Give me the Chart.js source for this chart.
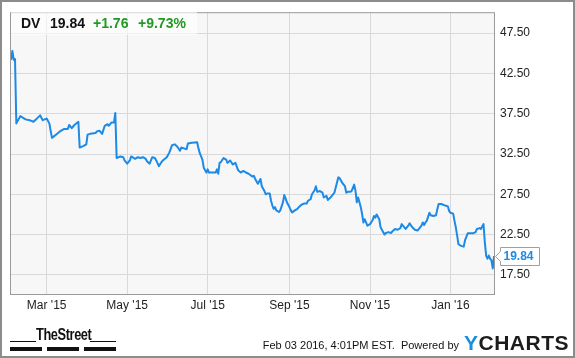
<!DOCTYPE html>
<html>
<head>
<meta charset="utf-8">
<script src="https://cdn.jsdelivr.net/npm/chart.js@4.4.0/dist/chart.umd.min.js"></script>
<style>
  html, body { margin: 0; padding: 0; background: #fff; }
  #frame { position: relative; width: 575px; height: 358px; overflow: hidden;
           font-family: "Liberation Sans", Arial, sans-serif; color: #111; }
  #myChart { position: absolute; left: 0; top: 0; }
  #outline { position: absolute; left: 0; top: 0; width: 575px; height: 358px;
             box-sizing: border-box; border: 2px solid #8c8c8c; pointer-events: none; }
  #header { position: absolute; left: 11px; top: 11px; width: 186px; height: 24px;
            background: rgba(255,255,255,0.6); }
  .hd { position: absolute; top: 16px; font-size: 14px; font-weight: bold; line-height: 14px; }
  .up { color: #229922; }
  #street { position: absolute; left: 36px; top: 326px; font-size: 16px; font-weight: bold;
            letter-spacing: -0.5px; transform: scaleX(0.8); transform-origin: left top; color: #111; }
  .rule { position: absolute; background: #111; }
  #stamp { position: absolute; right: 116px; top: 339px; font-size: 11px; color: #111;
           white-space: nowrap; text-align: right; }
  #ycharts { position: absolute; left: 464px; top: 331px; font-size: 21px; font-weight: bold;
             letter-spacing: 0.5px; color: #1c1c1c; }
  #ycharts span { color: #1a8fdc; }
</style>
</head>
<body>
<div id="frame">
  <canvas id="myChart" width="575" height="358"></canvas>
  <div id="header"></div>
  <div class="hd" style="left:21px">DV</div>
  <div class="hd" style="left:50px">19.84</div>
  <div class="hd up" style="left:93px">+1.76</div>
  <div class="hd up" style="left:138px">+9.73%</div>

  <div id="street">TheStreet</div>
  <div class="rule" style="left:10px; top:341px; width:26px; height:1px"></div>
  <div class="rule" style="left:90px; top:341px; width:26px; height:1px"></div>
  <div class="rule" style="left:10px; top:347px; width:32px; height:4px"></div>
  <div class="rule" style="left:47px; top:347px; width:32px; height:4px"></div>
  <div class="rule" style="left:84px; top:347px; width:32px; height:4px"></div>
  <div id="stamp">Feb 03 2016, 4:01PM EST.&nbsp; Powered by</div>
  <div id="ycharts"><span>Y</span>CHARTS</div>
  <div id="outline"></div>
</div>

<script>
const Chart = window.Chart;

// days counted from 1 Jan 2015 (59 = 1 Mar 2015, 365 = 1 Jan 2016)
const days = [
  32, 33, 34, 35, 36, 39, 43, 46, 49, 51, 54, 56, 59, 61, 63, 66, 69, 72, 75, 76, 78, 80, 83, 84, 87, 89, 90,
  92, 96, 97, 99, 101, 103, 105, 106, 108, 110, 111, 112, 115, 117, 118, 120, 122, 123, 126, 128, 130, 132,
  134, 135, 137, 139, 141, 142, 144, 146, 147, 150, 152, 154, 156, 158, 160, 161, 163, 165, 166, 169, 173,
  174, 175, 177, 178, 180, 181, 182, 184, 187, 188, 189, 190, 191, 193, 195, 196, 198, 200, 202, 204, 206,
  208, 210, 212, 215, 216, 217, 219, 220, 221, 222, 224, 225, 226, 228, 229, 230, 231, 232, 233, 235, 236,
  238, 239, 240, 241, 243, 244, 245, 247, 249, 250, 252, 254, 256, 257, 259, 260, 262, 263, 264, 266, 268,
  269, 271, 272, 274, 276, 277, 280, 281, 283, 285, 286, 287, 289, 290, 292, 293, 294, 295, 296, 297, 298,
  299, 300, 301, 302, 304, 306, 307, 308, 309, 311, 312, 314, 315, 316, 318, 320, 321, 323, 325, 327, 328,
  330, 331, 333, 334, 336, 338, 340, 343, 344, 345, 346, 347, 348, 349, 350, 352, 354, 355, 356, 358, 361,
  363, 364, 365, 367, 368, 369, 370, 371, 373, 375, 376, 377, 378, 380, 382, 384, 385, 387, 388, 390, 391,
  392, 393, 394, 395, 396, 397, 398
];

const prices = [
  44.2, 45.3, 44.2, 44.3, 36.3, 37.2, 36.8, 36.7, 36.5, 36.8, 37.3, 36.7, 36.9, 36.3, 34.5, 34.9, 35.3, 35.6, 35.6, 36.1, 35.7, 36.1, 36.5, 33.3, 33.5, 33.7, 34.9,
  35.0, 35.1, 35.3, 35.4, 35.0, 36.0, 36.2, 36.0, 36.4, 36.4, 37.6, 32.0, 32.2, 32.1, 31.7, 31.3, 31.7, 32.2, 31.9, 32.1, 32.0, 32.1,
  31.9, 31.6, 31.3, 32.1, 32.0, 31.7, 31.0, 31.5, 31.7, 32.1, 32.7, 33.6, 33.7, 33.4, 32.9, 33.3, 33.2, 33.1, 33.8, 33.9, 33.95,
  33.2, 32.6, 31.8, 30.8, 30.2, 30.6, 30.2, 30.2, 30.2, 30.6, 30.05, 31.4, 31.5, 32.0, 31.8, 31.4, 31.7, 31.2, 31.4, 30.5, 30.2,
  30.4, 30.2, 30.05, 29.7, 29.8, 29.4, 28.8, 29.1, 29.4, 28.5, 27.9, 27.5, 27.6, 27.6, 26.7, 26.1, 25.7, 25.9, 25.5, 25.3, 25.5,
  26.5, 27.4, 27.0, 26.5, 25.9, 25.5, 25.25, 25.5, 25.7, 25.9, 26.2, 26.35, 26.35, 26.7, 26.9, 27.5, 28.0, 28.5, 27.8, 27.9, 27.7,
  27.1, 27.3, 26.8, 27.1, 27.5, 27.7, 29.6, 29.5, 28.9, 28.5, 27.7, 27.8, 27.8, 27.9, 28.7, 27.9, 26.5, 27.1, 26.5, 25.9, 25.05,
  24.0, 24.4, 24.0, 23.6, 23.8, 24.3, 24.8, 24.6, 25.0, 24.4, 23.4, 22.8, 22.5, 22.7, 22.8, 22.7, 22.9, 23.2, 23.1, 23.3, 23.8,
  23.4, 23.2, 23.6, 23.9, 23.4, 23.1, 23.0, 23.6, 24.0, 23.7, 24.0, 24.2, 24.7, 25.2, 24.9, 24.8, 24.9, 25.65, 26.3, 26.3, 26.1,
  26.0, 25.4, 25.2, 25.1, 24.2, 23.4, 22.4, 21.3, 21.1, 21.0, 21.8, 22.2, 22.65, 22.65, 22.65, 22.8, 23.2, 23.3, 23.2, 23.8, 21.5,
  19.9, 19.5, 19.9, 19.5, 19.3, 18.3, 19.84
];

const monthTicks = [59, 120, 181, 243, 304, 365];
const monthLabels = ["Mar '15", "May '15", "Jul '15", "Sep '15", "Nov '15", "Jan '16"];
const priceTicks = [17.5, 22.5, 27.5, 32.5, 37.5, 42.5, 47.5];

// plot background, frame and the last-price tag
const plotFrame = {
  id: 'plotFrame',
  beforeDraw(chart) {
    const { ctx, chartArea: a } = chart;
    ctx.save();
    ctx.fillStyle = '#f7f7f7';
    ctx.fillRect(a.left, a.top, a.right - a.left, a.bottom - a.top);
    ctx.restore();
  },
  afterDraw(chart) {
    const { ctx, chartArea: a } = chart;
    ctx.save();
    ctx.strokeStyle = '#9a9a9a';
    ctx.lineWidth = 1;
    ctx.strokeRect(a.left + 0.5, a.top + 0.5, a.right - a.left - 1, a.bottom - a.top - 1);

    const last = prices[prices.length - 1];
    const y = Math.round(chart.scales.y.getPixelForValue(last)) + 0.5;
    const x0 = a.right + 0.5, x1 = x0 + 5, x2 = x0 + 44;
    ctx.beginPath();
    ctx.moveTo(x0, y);
    ctx.lineTo(x1, y - 5);
    ctx.lineTo(x1, y - 9);
    ctx.lineTo(x2, y - 9);
    ctx.lineTo(x2, y + 9);
    ctx.lineTo(x1, y + 9);
    ctx.lineTo(x1, y + 5);
    ctx.closePath();
    ctx.fillStyle = '#fff';
    ctx.fill();
    ctx.strokeStyle = '#a0a0a0';
    ctx.stroke();
    ctx.fillStyle = '#1c8ae6';
    ctx.font = 'bold 12px "Liberation Sans", Arial, sans-serif';
    ctx.textBaseline = 'middle';
    ctx.fillText(last.toFixed(2), x1 + 3, y + 0.5);
    ctx.restore();
  }
};

function initChart(target) {
  const tickFont = { family: '"Liberation Sans", Arial, sans-serif', size: 12 };
  return new Chart(target, {
    type: 'line',
    data: {
      datasets: [{
        data: days.map((d, i) => ({ x: d, y: prices[i] })),
        borderColor: '#1c8ae6',
        borderWidth: 2,
        pointRadius: 0,
        tension: 0,
        fill: false,
        borderJoinStyle: 'round'
      }]
    },
    options: {
      responsive: false,
      animation: false,
      layout: { padding: { left: 10, top: 10, right: 0, bottom: 0 } },
      plugins: { legend: { display: false }, tooltip: { enabled: false } },
      scales: {
        x: {
          type: 'linear',
          min: 31.2,
          max: 398.7,
          afterBuildTicks: (s) => { s.ticks = monthTicks.map(v => ({ value: v })); },
          afterFit: (s) => { s.height = 63; },
          ticks: {
            callback: (v, i) => monthLabels[i],
            color: '#222',
            font: tickFont,
            padding: 3,
            maxRotation: 0,
            autoSkip: false
          },
          grid: { color: '#d9d9d9', drawTicks: false },
          border: { display: false }
        },
        y: {
          position: 'right',
          min: 15,
          max: 50.1,
          afterBuildTicks: (s) => { s.ticks = priceTicks.map(v => ({ value: v })); },
          afterFit: (s) => { s.width = 80; },
          ticks: {
            callback: (v) => v.toFixed(2),
            color: '#222',
            font: tickFont,
            padding: 5
          },
          grid: { color: '#d9d9d9', drawTicks: false },
          border: { display: false }
        }
      }
    },
    plugins: [plotFrame]
  });
}

document.addEventListener("DOMContentLoaded", () => initChart(document.querySelector('#myChart')));
</script>
</body>
</html>
